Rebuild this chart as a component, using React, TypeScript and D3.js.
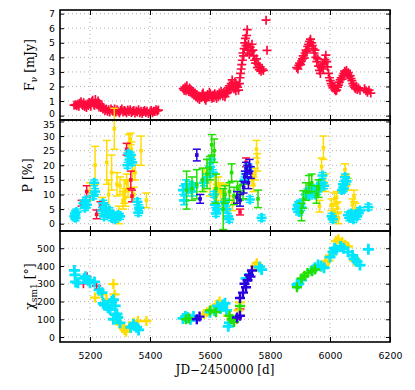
import * as d3 from "d3";
import { useEffect, useRef } from "react";

// time axis
const xTicks = [5200, 5400, 5600, 5800, 6000, 6200];
const fluxTicks = [0, 1, 2, 3, 4, 5, 6, 7];
const polTicks = [0, 5, 10, 15, 20, 25, 30, 35];
const chiTicks = [0, 100, 200, 300, 400, 500];

// [JD-2450000, F (mJy)]
const fluxData: [number, number][] = [
  [5147, 0.72], [5152, 0.75], [5156, 0.68], [5160, 0.8], [5163, 0.65], [5166, 0.85], [5170, 0.95],
  [5173, 0.78], [5176, 0.7], [5179, 0.88], [5182, 0.62], [5185, 0.75], [5188, 0.55], [5191, 0.8],
  [5194, 0.7], [5197, 0.9], [5200, 0.85], [5203, 0.65], [5206, 0.95], [5209, 1.05], [5212, 0.8],
  [5215, 0.7], [5218, 1.1], [5221, 0.85], [5224, 0.75], [5227, 1.0], [5230, 0.6], [5233, 0.8],
  [5236, 0.55], [5240, 0.65], [5243, 0.45], [5246, 0.5], [5250, 0.35], [5254, 0.45], [5258, 0.3],
  [5262, 0.4], [5266, 0.25], [5270, 0.45], [5274, 0.35], [5278, 0.3], [5282, 0.45], [5286, 0.25],
  [5290, 0.4], [5294, 0.3], [5298, 0.2], [5302, 0.35], [5306, 0.45], [5310, 0.25], [5314, 0.35],
  [5318, 0.3], [5322, 0.2], [5326, 0.38], [5330, 0.28], [5334, 0.4], [5338, 0.22], [5342, 0.3],
  [5346, 0.35], [5350, 0.18], [5354, 0.32], [5358, 0.25], [5362, 0.4], [5366, 0.2], [5370, 0.3],
  [5374, 0.15], [5378, 0.28], [5382, 0.35], [5386, 0.22], [5390, 0.3], [5395, 0.15], [5400, 0.25],
  [5404, 0.35], [5408, 0.2], [5412, 0.3], [5416, 0.28], [5420, 0.4], [5424, 0.32], [5428, 0.38],
  [5511, 1.85], [5514, 1.75], [5517, 1.95], [5520, 1.7], [5523, 2.05], [5526, 1.8], [5529, 1.65],
  [5532, 1.9], [5535, 1.6], [5538, 1.75], [5541, 1.5], [5544, 1.65], [5547, 1.4], [5550, 1.55],
  [5553, 1.3], [5556, 1.45], [5559, 1.2], [5562, 1.35], [5565, 1.1], [5568, 1.3], [5571, 1.25],
  [5574, 1.45], [5577, 1.55], [5580, 1.35], [5583, 1.15], [5586, 1.05], [5589, 1.25], [5592, 1.45],
  [5595, 1.35], [5598, 1.6], [5601, 1.5], [5604, 1.3], [5607, 1.2], [5610, 1.4], [5613, 1.25],
  [5616, 1.5], [5619, 1.35], [5622, 1.2], [5625, 1.45], [5628, 1.3], [5631, 1.55], [5634, 1.4],
  [5637, 1.65], [5640, 1.5], [5643, 1.35], [5646, 1.6], [5650, 1.3], [5653, 1.5], [5656, 1.75],
  [5659, 1.6], [5662, 1.9], [5665, 2.05], [5668, 1.8], [5671, 2.2], [5674, 2.45], [5677, 2.0],
  [5680, 1.85], [5683, 2.3], [5686, 1.7], [5689, 2.1], [5692, 1.95], [5695, 1.75], [5698, 2.2],
  [5700, 2.6], [5702, 2.9], [5704, 3.2], [5706, 3.5], [5708, 3.8], [5710, 4.3], [5712, 4.1],
  [5714, 4.6], [5716, 5.0], [5718, 5.3], [5720, 4.8], [5722, 5.5], [5724, 5.9], [5726, 4.5],
  [5728, 4.9], [5731, 4.2], [5734, 4.7], [5737, 4.4], [5740, 4.9], [5743, 4.5], [5746, 4.1],
  [5749, 3.8], [5752, 3.6], [5755, 3.9], [5758, 3.3], [5761, 3.5], [5764, 3.15], [5767, 3.35],
  [5770, 3.05], [5774, 3.2], [5778, 3.1], [5787, 6.55], [5790, 4.48],
  [5889, 3.3], [5893, 3.2], [5896, 3.45], [5899, 3.6], [5902, 3.5], [5905, 3.75], [5908, 3.9],
  [5911, 4.1], [5914, 3.95], [5917, 4.3], [5920, 4.5], [5923, 4.4], [5926, 4.75], [5929, 4.9],
  [5932, 5.1], [5935, 5.25], [5938, 5.0], [5941, 4.8], [5944, 4.6], [5947, 4.3], [5950, 4.5],
  [5953, 4.0], [5956, 3.7], [5959, 3.9], [5962, 3.4], [5965, 3.1], [5968, 2.9], [5971, 3.3],
  [5974, 3.5], [5977, 3.2], [5980, 3.6], [5983, 3.85], [5986, 4.15], [5989, 3.7], [5992, 3.35],
  [5995, 2.9], [5998, 2.6], [6001, 2.4], [6004, 2.2], [6007, 2.05], [6010, 1.9], [6013, 2.0],
  [6016, 1.8], [6019, 1.7], [6022, 1.75], [6025, 1.95], [6028, 2.1], [6031, 2.3], [6034, 2.45],
  [6037, 2.6], [6040, 2.5], [6043, 2.75], [6046, 2.9], [6049, 3.05], [6052, 2.95], [6055, 3.1],
  [6058, 2.85], [6061, 2.95], [6064, 2.7], [6067, 2.75], [6070, 2.55], [6073, 2.4], [6076, 2.2],
  [6079, 2.05], [6082, 1.95], [6085, 1.85], [6088, 2.0], [6091, 1.8], [6095, 1.9], [6100, 1.75],
  [6115, 1.85], [6120, 1.7], [6125, 1.6], [6130, 1.75], [6136, 1.55],
];

// polarisation degree [JD, P (%), error]
const polRed: [number, number, number][] = [
  [5172, 7.0, 1], [5189, 11.0, 2], [5222, 3.2, 1.5], [5235, 6.0, 1.5], [5322, 25.5, 2],
  [5336, 15.0, 3], [5340, 9.5, 2], [5700, 4.0, 1], [5720, 21.0, 1.5],
];
const polYellow: [number, number, number][] = [
  [5200, 11.0, 3], [5217, 20.0, 6.5], [5240, 6.0, 3], [5256, 21.0, 7.5], [5262, 10.0, 5],
  [5272, 17.5, 6], [5281, 32.5, 7], [5290, 13.5, 4], [5296, 3.0, 3], [5300, 13.0, 3], [5310, 8.0, 3],
  [5314, 11.0, 4], [5318, 9.0, 3], [5322, 14.0, 3], [5327, 12.0, 3], [5330, 27.5, 3], [5335, 29.0, 2],
  [5338, 25.5, 2.5], [5342, 18.0, 3], [5346, 10.0, 2.5], [5350, 17.5, 2.5], [5370, 25.0, 5],
  [5388, 8.0, 2.5],
  [5580, 15.0, 4], [5590, 18.0, 4], [5600, 14.5, 5], [5615, 12.0, 5], [5622, 9.5, 4], [5628, 13.0, 3],
  [5635, 11.0, 3], [5642, 8.0, 3], [5648, 10.5, 3], [5660, 5.0, 3], [5675, 7.0, 2.5], [5690, 9.0, 2],
  [5740, 15.0, 2], [5745, 13.5, 2.5], [5750, 17.0, 2], [5755, 25.5, 3], [5758, 21.0, 3],
  [5965, 6.0, 2], [5972, 19.5, 3], [5978, 26.0, 4], [5985, 14.0, 3], [6005, 6.5, 2], [6010, 4.0, 2],
  [6015, 8.5, 2], [6018, 3.0, 2], [6022, 9.0, 2], [6025, 5.5, 2], [6028, 2.0, 2], [6050, 18.5, 2],
  [6055, 15.0, 2], [6060, 13.5, 2], [6075, 6.5, 2], [6080, 9.5, 2], [6085, 5.0, 2],
];
const polCyan: [number, number, number][] = [
  [5148, 2.5, 1], [5150, 3.5, 1], [5152, 2.0, 1], [5155, 4.0, 1], [5178, 7.0, 1], [5183, 5.5, 1],
  [5186, 8.0, 1], [5190, 6.5, 1], [5211, 9.5, 1], [5214, 14.0, 1], [5217, 11.0, 1], [5240, 4.5, 1],
  [5244, 7.0, 1], [5247, 2.5, 1], [5252, 5.5, 1], [5256, 3.5, 1], [5265, 4.5, 1], [5272, 2.0, 1],
  [5276, 3.0, 1], [5283, 1.5, 1], [5288, 2.5, 1], [5294, 3.0, 1], [5300, 2.5, 1], [5325, 20.0, 1],
  [5328, 24.0, 1], [5332, 22.0, 1], [5336, 23.5, 1], [5340, 21.0, 1], [5358, 7.5, 1], [5361, 3.8, 1],
  [5364, 5.5, 1],
  [5510, 11.5, 1.5], [5514, 8.0, 1.5], [5520, 13.5, 1.5], [5527, 12.0, 1.5], [5533, 13.0, 1.5],
  [5540, 11.0, 1.5], [5545, 12.5, 1.5], [5580, 14.0, 1], [5590, 16.0, 1], [5600, 19.5, 1],
  [5604, 22.0, 1], [5609, 17.5, 1], [5613, 10.0, 1], [5617, 6.5, 1], [5620, 3.5, 1], [5625, 5.0, 1],
  [5650, 7.5, 1], [5655, 5.0, 1], [5660, 2.5, 1], [5664, 1.5, 1], [5715, 15.0, 1], [5720, 17.0, 1],
  [5728, 19.5, 1], [5733, 8.3, 1], [5772, 2.0, 1],
  [5890, 5.0, 1], [5893, 6.5, 1], [5897, 4.0, 1], [5900, 7.0, 1], [5905, 5.5, 1], [5920, 10.0, 1],
  [5925, 11.0, 1], [5930, 9.5, 1], [5935, 11.5, 1], [5940, 10.5, 1], [5945, 12.0, 1], [5950, 10.0, 1],
  [5958, 11.0, 1], [5965, 12.5, 1], [5970, 14.0, 1], [5975, 16.5, 1], [5980, 13.0, 1], [6005, 2.5, 1],
  [6010, 1.5, 1], [6040, 11.5, 1], [6043, 13.5, 1], [6046, 12.0, 1], [6050, 16.0, 1], [6055, 14.5, 1],
  [6060, 3.0, 1], [6065, 2.0, 1], [6070, 3.5, 1], [6078, 1.5, 1], [6085, 3.0, 1], [6090, 2.5, 1],
  [6095, 3.7, 1], [6100, 4.5, 1], [6128, 5.7, 1],
];
const polGreen: [number, number, number][] = [
  [5522, 11.5, 6.5], [5540, 12.0, 4], [5556, 13.5, 5], [5575, 15.0, 4], [5590, 17.0, 5],
  [5600, 19.0, 4], [5606, 27.0, 3.5], [5614, 25.0, 4], [5620, 12.0, 5], [5644, 5.0, 7],
  [5650, 10.0, 3], [5665, 11.0, 3], [5672, 17.5, 3], [5680, 9.5, 3], [5692, 12.0, 2.5],
  [5700, 10.5, 2.5], [5710, 11.0, 2.5], [5760, 8.5, 3], [5905, 4.0, 3], [5911, 8.3, 3],
  [5920, 11.0, 3], [5930, 13.5, 3], [5939, 14.0, 3], [5955, 10.0, 3], [5962, 12.0, 3],
];
const polBlue: [number, number, number][] = [
  [5556, 23.5, 2], [5567, 8.5, 1.5], [5690, 9.0, 2], [5700, 8.0, 2], [5712, 12.5, 2],
  [5716, 16.0, 2], [5720, 19.0, 2], [5724, 18.0, 2], [5728, 14.0, 2], [5732, 20.0, 2],
  [5736, 17.5, 2],
];

// polarisation angle [JD, chi (deg)]
const chiRed: [number, number][] = [
  [5178, 300], [5190, 340], [5222, 288], [5230, 270], [5690, 100], [5700, 157],
];
const chiYellow: [number, number][] = [
  [5217, 222], [5240, 240], [5255, 210], [5265, 180], [5278, 298], [5282, 240], [5290, 90],
  [5300, 75], [5310, 55], [5315, 40], [5320, 30], [5330, 60], [5345, 80], [5360, 90], [5388, 90],
  [5580, 130], [5590, 140], [5605, 155], [5615, 150], [5625, 185], [5632, 200], [5645, 170],
  [5660, 120], [5695, 150], [5700, 195], [5750, 400], [5756, 415], [5760, 395],
  [5970, 395], [5980, 400], [5985, 425], [5995, 430], [6000, 460], [6020, 540], [6028, 550],
  [6040, 535], [6050, 520], [6060, 510], [6080, 430], [6085, 440],
];
const chiCyan: [number, number][] = [
  [5148, 375], [5150, 350], [5152, 310], [5160, 305], [5180, 330], [5185, 340], [5194, 320],
  [5200, 305], [5215, 310], [5230, 265], [5240, 250], [5244, 190], [5248, 180], [5260, 165],
  [5267, 155], [5272, 200], [5278, 210], [5284, 175], [5290, 130], [5278, 100], [5285, 125],
  [5292, 110], [5300, 80], [5336, 55], [5345, 70], [5355, 55], [5362, 40],
  [5510, 105], [5518, 115], [5525, 110], [5535, 100], [5545, 115], [5600, 140], [5615, 150],
  [5625, 175], [5635, 160], [5642, 180], [5650, 190], [5655, 150], [5661, 60], [5665, 80],
  [5720, 330], [5765, 395], [5772, 380],
  [5890, 295], [5895, 300], [5905, 320], [5940, 375], [5950, 390], [5960, 405], [5970, 400],
  [5980, 390], [6000, 450], [6010, 480], [6015, 500], [6020, 490], [6035, 510], [6045, 500],
  [6060, 480], [6075, 460], [6080, 440], [6090, 425], [6100, 405], [6128, 494],
];
const chiGreen: [number, number][] = [
  [5520, 100], [5530, 105], [5600, 150], [5620, 140], [5665, 120], [5672, 100], [5680, 85],
  [5700, 175], [5890, 280], [5905, 330], [5915, 345], [5925, 360], [5940, 370], [5950, 380],
];
const chiBlue: [number, number][] = [
  [5556, 100], [5565, 115], [5690, 110], [5700, 120], [5700, 220], [5710, 250], [5715, 300],
  [5720, 280], [5725, 320], [5730, 350], [5735, 340], [5740, 375],
];

const RED = "#ff0a3c";
const YELLOW = "#ffdd00";
const CYAN = "#00e6ff";
const GREEN = "#22e000";
const BLUE = "#2a00e0";

const left = 60;
const right = 390;
const x = d3.scaleLinear().domain([5100, 6200]).range([left, right]);
const yFlux = d3.scaleLinear().domain([-0.3, 7.25]).range([120, 10]);
const yPol = d3.scaleLinear().domain([-2.5, 35.5]).range([231, 120]);
const yChi = d3.scaleLinear().domain([-28, 597]).range([342, 231]);

const plus = (s: number) => `M${-s},0H${s}M0,${-s}V${s}`;

function Grid({ y, ticks }) {
  const [bottom, top] = y.range();
  return (
    <g stroke="#a8a8a8" strokeWidth={0.9} strokeDasharray="1,3">
      {xTicks.slice(0, -1).map((t) => (
        <line key={`gx${t}`} x1={x(t)} x2={x(t)} y1={top} y2={bottom} />
      ))}
      {ticks.map((t) => (
        <line key={`gy${t}`} x1={left} x2={right} y1={y(t)} y2={y(t)} />
      ))}
    </g>
  );
}

function Frame({ y, ticks, showX, nudge }) {
  const ref = useRef(null);
  useEffect(() => {
    const g = d3.select(ref.current);
    g.selectAll("*").remove();
    const [bottom, top] = y.range();
    const style = (sel) => {
      sel.select(".domain").remove();
      sel.attr("font-family", "DejaVu Sans").attr("font-size", 9.4);
      sel.selectAll("line").attr("stroke-width", 1);
    };
    const yAxis = g
      .append("g")
      .attr("transform", `translate(${left},0)`)
      .call(d3.axisLeft(y).tickValues(ticks).tickSize(-4).tickPadding(5).tickFormat(d3.format("d")))
      .call(style);
    // keep the labels at the panel joins from touching
    if (nudge) {
      yAxis
        .selectAll(".tick text")
        .filter((d) => d === nudge.value)
        .attr("y", nudge.dy);
    }
    g.append("g")
      .attr("transform", `translate(${right},0)`)
      .call(d3.axisRight(y).tickValues(ticks).tickSize(-4).tickFormat(() => ""))
      .call(style);
    g.append("g")
      .attr("transform", `translate(0,${top})`)
      .call(d3.axisTop(x).tickValues(xTicks).tickSize(-5).tickFormat(() => ""))
      .call(style);
    g.append("g")
      .attr("transform", `translate(0,${bottom})`)
      .call(
        d3
          .axisBottom(x)
          .tickValues(xTicks)
          .tickSize(-5)
          .tickPadding(10)
          .tickFormat(showX ? d3.format("d") : () => "")
      )
      .call(style);
    g.append("rect")
      .attr("x", left)
      .attr("y", top)
      .attr("width", right - left)
      .attr("height", bottom - top)
      .attr("fill", "none")
      .attr("stroke", "black")
      .attr("stroke-width", 1.6);
  }, [y, ticks, showX, nudge]);
  return <g ref={ref} />;
}

function ErrorPoints({ data, color, marker }) {
  return (
    <g stroke={color} fill={color}>
      {data.map(([t, p, e], i) => (
        <g key={i}>
          <line x1={x(t)} x2={x(t)} y1={yPol(p - e)} y2={yPol(p + e)} strokeWidth={1.5} />
          <line x1={x(t) - 4} x2={x(t) + 4} y1={yPol(p - e)} y2={yPol(p - e)} strokeWidth={1.5} />
          <line x1={x(t) - 4} x2={x(t) + 4} y1={yPol(p + e)} y2={yPol(p + e)} strokeWidth={1.5} />
          {marker === "plus" ? (
            <path d={plus(5)} transform={`translate(${x(t)},${yPol(p)})`} strokeWidth={2.6} fill="none" />
          ) : (
            <rect x={x(t) - 1.8} y={yPol(p) - 1.8} width={3.6} height={3.6} stroke="none" />
          )}
        </g>
      ))}
    </g>
  );
}

function AnglePoints({ data, color, size, width }) {
  return (
    <g stroke={color} fill="none" strokeWidth={width}>
      {data.map(([t, c], i) => (
        <path key={i} d={plus(size)} transform={`translate(${x(t)},${yChi(c)})`} />
      ))}
    </g>
  );
}

const fluxNudge = { value: 0, dy: -2.6 };
const polNudge = { value: 35, dy: 2.6 };

export default function App() {
  return (
    <svg width={415} height={390} style={{ position: "absolute", left: 0, top: 0, background: "white" }}>
      <Grid y={yFlux} ticks={fluxTicks} />
      <Grid y={yPol} ticks={polTicks} />
      <Grid y={yChi} ticks={chiTicks} />

      <g stroke={RED} strokeWidth={1.7} fill="none">
        {fluxData.map(([t, f], i) => (
          <path key={i} d={plus(4.5)} transform={`translate(${x(t)},${yFlux(f)})`} />
        ))}
      </g>

      <ErrorPoints data={polYellow} color={YELLOW} marker="square" />
      <ErrorPoints data={polRed} color={RED} marker="square" />
      <ErrorPoints data={polCyan} color={CYAN} marker="plus" />
      <ErrorPoints data={polGreen} color={GREEN} marker="square" />
      <ErrorPoints data={polBlue} color={BLUE} marker="square" />

      <AnglePoints data={chiRed} color={RED} size={4.5} width={1.6} />
      <AnglePoints data={chiYellow} color={YELLOW} size={5} width={2.4} />
      <AnglePoints data={chiCyan} color={CYAN} size={5.5} width={2.8} />
      <AnglePoints data={chiGreen} color={GREEN} size={5} width={2.4} />
      <AnglePoints data={chiBlue} color={BLUE} size={5} width={2.4} />

      <Frame y={yFlux} ticks={fluxTicks} showX={false} nudge={fluxNudge} />
      <Frame y={yPol} ticks={polTicks} showX={false} nudge={polNudge} />
      <Frame y={yChi} ticks={chiTicks} showX={true} nudge={null} />

      <g fontFamily="DejaVu Serif" fontSize={12.5} fill="black" textAnchor="middle">
        <text transform={`translate(34,${(10 + 120) / 2}) rotate(-90)`}>
          F<tspan fontSize={9} dy={3}>ν</tspan>
          <tspan dy={-3}> [mJy]</tspan>
        </text>
        <text transform={`translate(32,${(120 + 231) / 2}) rotate(-90)`}>P [%]</text>
        <text transform={`translate(34,${(231 + 342) / 2}) rotate(-90)`}>
          χ<tspan fontSize={9} dy={3}>sm1</tspan>
          <tspan dy={-3}> [°]</tspan>
        </text>
        <text x={225} y={374} fontSize={12}>JD−2450000 [d]</text>
      </g>
    </svg>
  );
}
